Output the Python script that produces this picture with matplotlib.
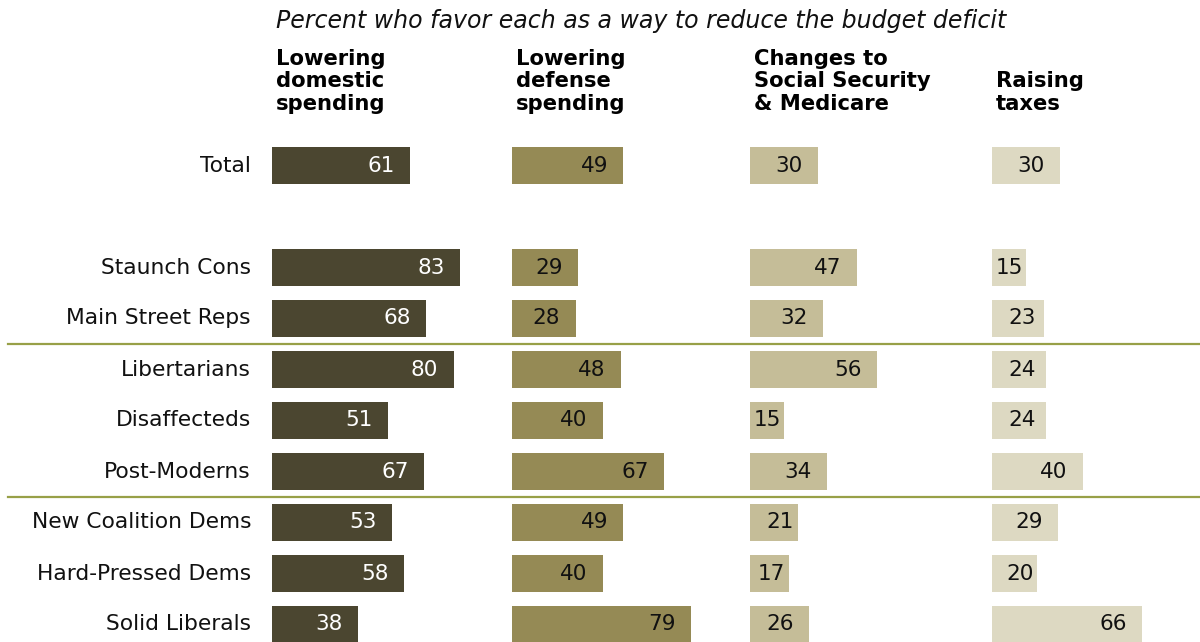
"""
Budget deficit chart: percent who favor each option, by typology group.
Four side-by-side horizontal bar panels sharing the same row labels.
"""

import matplotlib
matplotlib.use("Agg")

import matplotlib.pyplot as plt
import matplotlib.transforms as mtransforms
from matplotlib.lines import Line2D

# --- data -------------------------------------------------------------------
groups = ["Total", "Staunch Cons", "Main Street Reps", "Libertarians",
          "Disaffecteds", "Post-Moderns", "New Coalition Dems",
          "Hard-Pressed Dems", "Solid Liberals"]
row_pos = [0, 2, 3, 4, 5, 6, 7, 8, 9]   # blank slot after Total

headers = ["Lowering\ndomestic\nspending",
           "Lowering\ndefense\nspending",
           "Changes to\nSocial Security\n& Medicare",
           "Raising\ntaxes"]

domestic = [61, 83, 68, 80, 51, 67, 53, 58, 38]
defense = [49, 29, 28, 48, 40, 67, 49, 40, 79]
entitlements = [30, 47, 32, 56, 15, 34, 21, 17, 26]
taxes = [30, 15, 23, 24, 24, 40, 29, 20, 66]

series = [domestic, defense, entitlements, taxes]
colors = ["#4b4630", "#958a55", "#c5bd98", "#ddd9c2"]
text_colors = ["white", "#111111", "#111111", "#111111"]

subtitle = "Percent who favor each as a way to reduce the budget deficit"
separators = [3.5, 6.5]   # between party blocs

# --- layout (pixels in a 1200x642 canvas) -----------------------------------
W, H = 1200, 642
PX_PER_UNIT = 2.27
panel_left = [272, 512, 750, 992]
panel_width = 235
row_px = 51.0
top_px = 140.0           # pixel of y = -0.5
y_bottom = -0.5 + (H - top_px) / row_px

FONT = "DejaVu Sans"
plt.rcParams["font.family"] = FONT

fig = plt.figure(figsize=(W / 100, H / 100), dpi=100)

axes = []
for i, (vals, col) in enumerate(zip(series, colors)):
    ax = fig.add_axes([panel_left[i] / W, 0, panel_width / W,
                       (H - top_px) / H])
    ax.barh(row_pos, vals, height=0.71, color=col, edgecolor="none")
    ax.set_xlim(0, panel_width / PX_PER_UNIT)
    ax.set_ylim(y_bottom, -0.5)
    ax.axis("off")

    # value labels: inside end, pushed toward the middle for short bars
    for y, v in zip(row_pos, vals):
        end = v * PX_PER_UNIT
        cx = max(end - 29, min(30, end - 17))
        ax.text(cx / PX_PER_UNIT, y, str(v), ha="center", va="center",
                fontsize=15.5, color=text_colors[i])

    fig.text((panel_left[i] + 4) / W, 1 - 110 / H, headers[i],
             ha="left", va="baseline", fontsize=15.2, fontweight="bold",
             linespacing=1.17, color="black")
    axes.append(ax)

# row labels on the left of the first panel
for y, g in zip(row_pos, groups):
    axes[0].text(-21 / PX_PER_UNIT, y, g, ha="right", va="center",
                 fontsize=15.7, color="#111111", clip_on=False)

fig.text(276 / W, 1 - 28 / H, subtitle, ha="left", va="baseline",
         fontsize=17, style="italic", color="#111111")

# olive separators spanning the figure width
trans = mtransforms.blended_transform_factory(fig.transFigure,
                                              axes[0].transData)
for s in separators:
    fig.add_artist(Line2D([8 / W, 1], [s, s], transform=trans,
                          color="#98a048", lw=1.6))

fig.savefig("out.png", dpi=100)
